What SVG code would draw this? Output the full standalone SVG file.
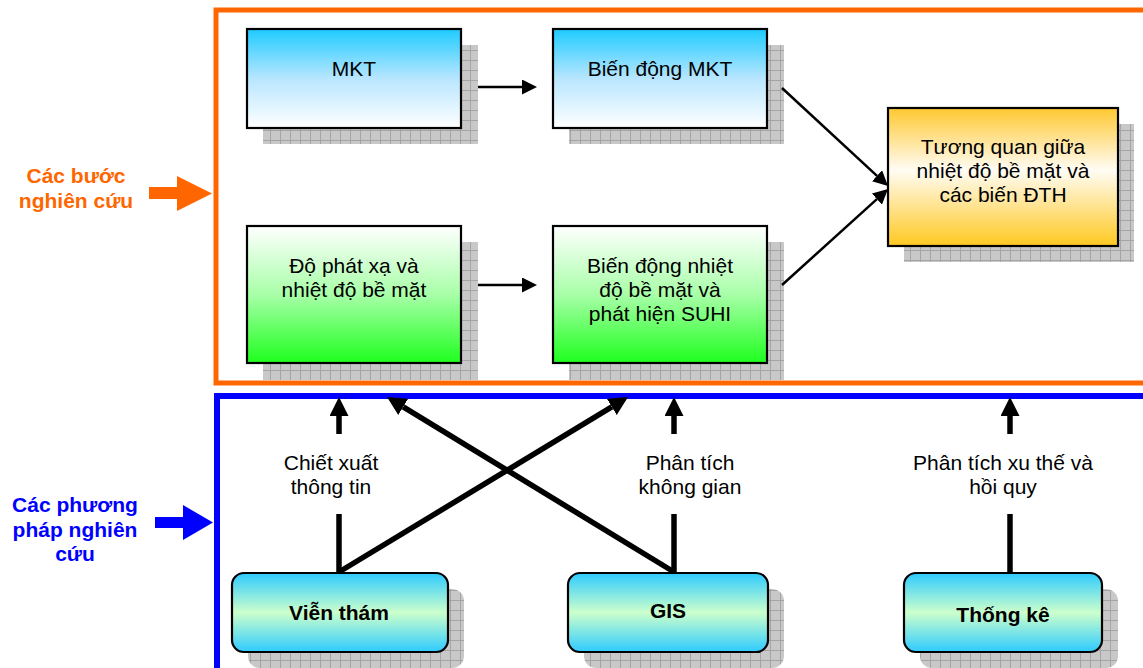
<svg xmlns="http://www.w3.org/2000/svg" width="1143" height="668" viewBox="0 0 1143 668">
  <defs>
    <!-- grey hatched drop shadow -->
    <pattern id="shadowGrid" width="10" height="10" patternUnits="userSpaceOnUse">
      <rect width="10" height="10" fill="#c8c8c8"/>
      <path d="M0 0.5H10M0.5 0V10" stroke="#a4a4a4" stroke-width="1"/>
    </pattern>
    <linearGradient id="gBlue" x1="0" y1="0" x2="0" y2="1">
      <stop offset="0" stop-color="#1ecbff"/>
      <stop offset="0.5" stop-color="#b8e6ff"/>
      <stop offset="1" stop-color="#ffffff"/>
    </linearGradient>
    <linearGradient id="gGreen" x1="0" y1="0" x2="0" y2="1">
      <stop offset="0" stop-color="#ffffff"/>
      <stop offset="0.5" stop-color="#a8ffa8"/>
      <stop offset="1" stop-color="#1eff1e"/>
    </linearGradient>
    <linearGradient id="gGold" x1="0" y1="0" x2="0" y2="1">
      <stop offset="0" stop-color="#ffc830"/>
      <stop offset="0.45" stop-color="#fffcf4"/>
      <stop offset="1" stop-color="#ffc820"/>
    </linearGradient>
    <linearGradient id="gTool" x1="0" y1="0" x2="0" y2="1">
      <stop offset="0" stop-color="#2ecbff"/>
      <stop offset="0.5" stop-color="#ccffcc"/>
      <stop offset="1" stop-color="#2ecbff"/>
    </linearGradient>
    <marker id="headThin" viewBox="0 0 15 15" refX="0" refY="7.5" markerWidth="15" markerHeight="15" markerUnits="userSpaceOnUse" orient="auto">
      <path d="M0 0L15 7.5L0 15Z" fill="#000"/>
    </marker>
    <marker id="headThick" viewBox="0 0 19 19" refX="0" refY="9.5" markerWidth="19" markerHeight="19" markerUnits="userSpaceOnUse" orient="auto">
      <path d="M0 0L19 9.5L0 19Z" fill="#000"/>
    </marker>
    <style>
      .shadow { fill: url(#shadowGrid); }
      .box { stroke: #000; stroke-width: 2.2; }
      .txt { font-family: "Liberation Sans", Arial, sans-serif; font-size: 21px; fill: #000; text-anchor: middle; }
      .bold { font-weight: bold; }
      .thin { stroke: #000; stroke-width: 2.5; fill: none; }
      .thick { stroke: #000; stroke-width: 5.5; fill: none; }
      .side { font-family: "Liberation Sans", Arial, sans-serif; font-size: 21px; font-weight: bold; text-anchor: middle; }
    </style>
  </defs>

  <rect width="1143" height="668" fill="#fff"/>

  <!-- frames -->
  <g id="frame-steps">
    <rect x="216" y="10" width="940" height="373" fill="none" stroke="#ff6600" stroke-width="5"/>
  </g>
  <g id="frame-methods">
    <rect x="217" y="396" width="940" height="300" fill="none" stroke="#0000ff" stroke-width="6"/>
  </g>

  <!-- side labels -->
  <g id="label-steps">
    <text class="side" fill="#ff6600" x="76" y="183">Các bước</text>
    <text class="side" fill="#ff6600" x="76" y="208">nghiên cứu</text>
    <path d="M149 187H177V176L212 193.5L177 211V199H149Z" fill="#ff6600"/>
  </g>
  <g id="label-methods">
    <text class="side" fill="#0000ff" x="75" y="512">Các phương</text>
    <text class="side" fill="#0000ff" x="75" y="537">pháp nghiên</text>
    <text class="side" fill="#0000ff" x="75" y="561">cứu</text>
    <path d="M155 517H183V505L213 522.5L183 540V528H155Z" fill="#0000ff"/>
  </g>

  <!-- research steps -->
  <g id="node-mkt">
    <rect class="shadow" x="263" y="45" width="215" height="99"/>
    <rect class="box" x="247" y="29" width="214" height="99" fill="url(#gBlue)"/>
    <text class="txt" x="354" y="76">MKT</text>
  </g>
  <g id="node-bien-dong-mkt">
    <rect class="shadow" x="569" y="45" width="215" height="99"/>
    <rect class="box" x="553" y="29" width="214" height="99" fill="url(#gBlue)"/>
    <text class="txt" x="660" y="76">Biến động MKT</text>
  </g>
  <g id="node-phat-xa">
    <rect class="shadow" x="263" y="242" width="215" height="138"/>
    <rect class="box" x="247" y="226" width="214" height="137" fill="url(#gGreen)"/>
    <text class="txt" x="354" y="273">Độ phát xạ và</text>
    <text class="txt" x="354" y="297">nhiệt độ bề mặt</text>
  </g>
  <g id="node-bien-dong-nhiet">
    <rect class="shadow" x="569" y="242" width="215" height="138"/>
    <rect class="box" x="553" y="226" width="214" height="137" fill="url(#gGreen)"/>
    <text class="txt" x="660" y="273">Biến động nhiệt</text>
    <text class="txt" x="660" y="297">độ bề mặt và</text>
    <text class="txt" x="660" y="321">phát hiện SUHI</text>
  </g>
  <g id="node-tuong-quan">
    <rect class="shadow" x="904" y="124" width="230" height="138"/>
    <rect class="box" x="888" y="108" width="230" height="138" fill="url(#gGold)"/>
    <text class="txt" x="1003" y="154">Tương quan giữa</text>
    <text class="txt" x="1003" y="178">nhiệt độ bề mặt và</text>
    <text class="txt" x="1003" y="202">các biến ĐTH</text>
  </g>

  <!-- research methods -->
  <g id="node-vien-tham">
    <rect class="shadow" x="248" y="589" width="216" height="79" rx="12"/>
    <rect class="box" x="232" y="573" width="216" height="79" rx="12" fill="url(#gTool)"/>
    <text class="txt bold" x="339" y="620">Viễn thám</text>
  </g>
  <g id="node-gis">
    <rect class="shadow" x="584" y="589" width="200" height="79" rx="12"/>
    <rect class="box" x="568" y="573" width="200" height="79" rx="12" fill="url(#gTool)"/>
    <text class="txt bold" x="668" y="618">GIS</text>
  </g>
  <g id="node-thong-ke">
    <rect class="shadow" x="920" y="589" width="198" height="79" rx="12"/>
    <rect class="box" x="904" y="573" width="198" height="79" rx="12" fill="url(#gTool)"/>
    <text class="txt bold" x="1003" y="622">Thống kê</text>
  </g>

  <!-- connectors -->
  <g id="connectors">
    <line class="thin" x1="478" y1="87" x2="522" y2="87" marker-end="url(#headThin)"/>
    <line class="thin" x1="478" y1="285" x2="522" y2="285" marker-end="url(#headThin)"/>
    <line class="thin" x1="782" y1="88" x2="877" y2="175.8" marker-end="url(#headThin)"/>
    <line class="thin" x1="782" y1="285" x2="876.9" y2="199.1" marker-end="url(#headThin)"/>

    <line class="thick" x1="339" y1="572" x2="339" y2="514"/>
    <line class="thick" x1="339" y1="434" x2="339" y2="416" marker-end="url(#headThick)"/>
    <line class="thick" x1="674" y1="572" x2="674" y2="514"/>
    <line class="thick" x1="674" y1="434" x2="674" y2="416" marker-end="url(#headThick)"/>
    <line class="thick" x1="1010" y1="572" x2="1010" y2="514"/>
    <line class="thick" x1="1010" y1="434" x2="1010" y2="416" marker-end="url(#headThick)"/>

    <line class="thick" x1="339" y1="572" x2="611.8" y2="406.9" marker-end="url(#headThick)"/>
    <line class="thick" x1="674" y1="572" x2="403.2" y2="406.9" marker-end="url(#headThick)"/>
  </g>

  <!-- method labels -->
  <g id="method-labels">
    <text class="txt" x="331" y="470">Chiết xuất</text>
    <text class="txt" x="331" y="494">thông tin</text>
    <text class="txt" x="690" y="470">Phân tích</text>
    <text class="txt" x="690" y="494">không gian</text>
    <text class="txt" x="1003" y="470">Phân tích xu thế và</text>
    <text class="txt" x="1003" y="494">hồi quy</text>
  </g>
</svg>
